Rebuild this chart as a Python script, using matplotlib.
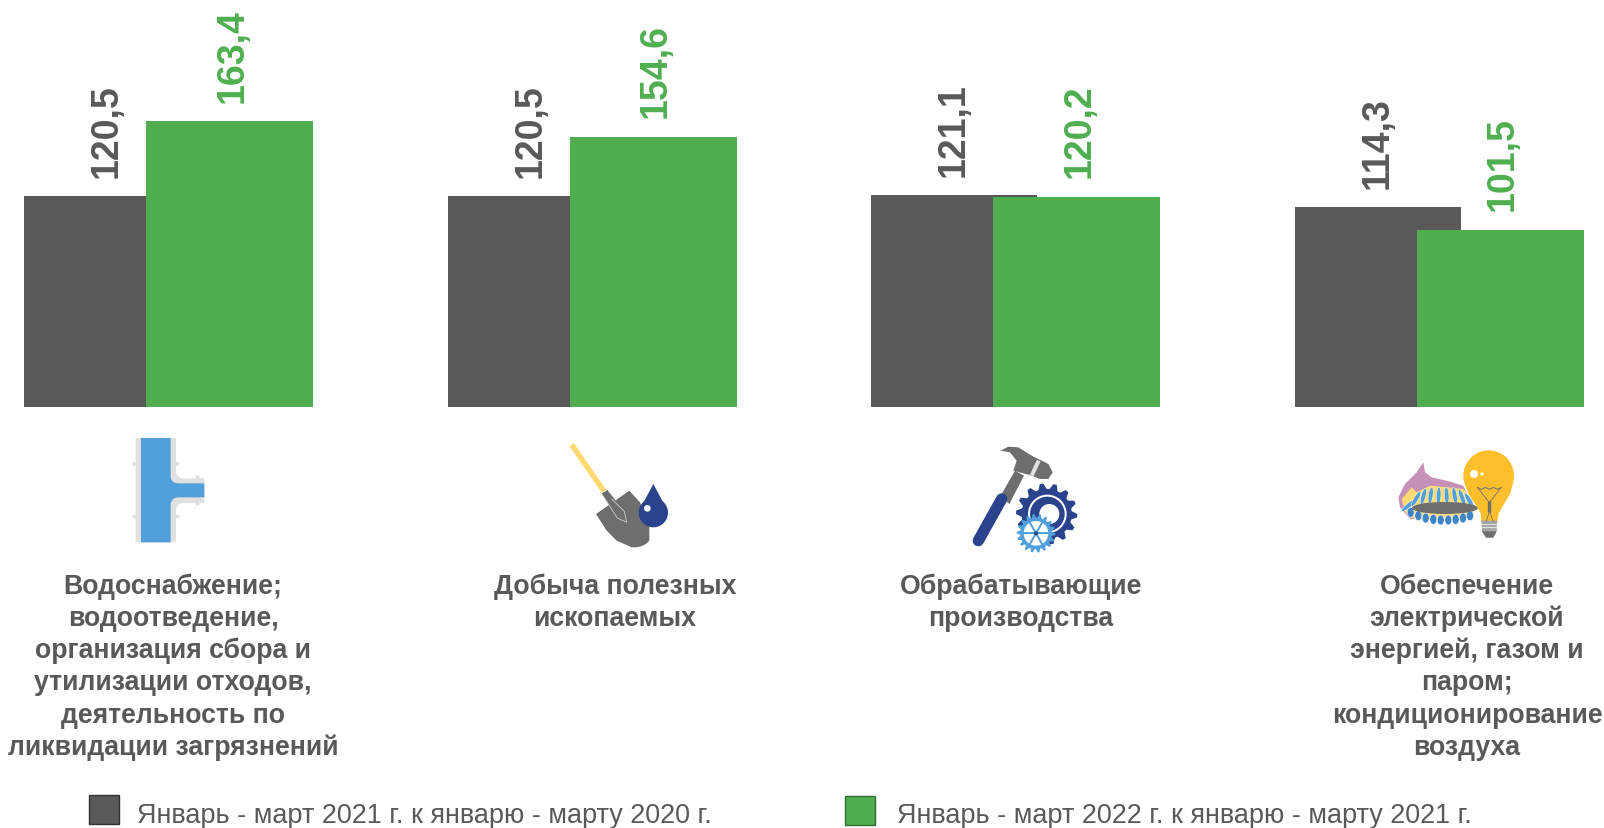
# modules
import numpy as np
import matplotlib
matplotlib.use('Agg')
import matplotlib.pyplot as plt
from matplotlib.patches import Polygon, Circle, Ellipse, Rectangle

plt.rcParams['font.family'] = ['Liberation Sans', 'DejaVu Sans']

# data
categories = [
    'Водоснабжение;\nводоотведение,\nорганизация сбора и\nутилизации отходов,\nдеятельность по\nликвидации загрязнений',
    'Добыча полезных\nископаемых',
    'Обрабатывающие\nпроизводства',
    'Обеспечение\nэлектрической\nэнергией, газом и\nпаром;\nкондиционирование\nвоздуха',
]
values_2021 = [120.5, 120.5, 121.1, 114.3]
values_2022 = [163.4, 154.6, 120.2, 101.5]
legend_2021 = 'Январь - март 2021 г. к январю - марту 2020 г.'
legend_2022 = 'Январь - март 2022 г. к январю - марту 2021 г.'

# colours
GREY = '#595959'
GREEN = '#4FAF50'
NAVY = '#2A438C'
BLUE = '#52A0DA'
STEEL = '#6E6E6E'
YELLOW = '#FDD96F'
AMBER = '#FDBE2C'
LIGHT = '#E0E0E0'

fig = plt.figure(figsize=(16.04, 8.29), dpi=100)

# bars: 1.75 px per unit, groups 423.5 px apart
BASE = 408.2
ax = fig.add_axes([0, 0, 1, 1])
ax.set_xlim(-168.3 / 423.5, (1604 - 168.3) / 423.5)
ax.set_ylim(-(829 - BASE) / 1.75, BASE / 1.75)
ax.axis('off')

x = np.arange(len(categories))
bars1 = ax.bar(x - 61.2 / 423.5, values_2021, 166 / 423.5, color=GREY, zorder=2)
bars2 = ax.bar(x + 61.5 / 423.5, values_2022, 167 / 423.5, color=GREEN, zorder=3)

for bars, col, dx in [(bars1, GREY, 0), (bars2, GREEN, 2)]:
    for b in bars:
        lab = ('%.1f' % b.get_height()).replace('.', ',')
        ax.annotate(lab, (b.get_x() + b.get_width() / 2, b.get_height()),
                    xytext=(dx, 14), textcoords='offset points', rotation=90,
                    ha='center', va='bottom', fontsize=27, fontweight='bold', color=col)

# overlay in figure pixels, for icons, captions and legend
ov = fig.add_axes([0, 0, 1, 1])
ov.set_xlim(0, 1604)
ov.set_ylim(829, 0)
ov.axis('off')
ov.patch.set_alpha(0)

# captions
cap_x = [173, 615, 1021, 1467]
for cx, cat in zip(cap_x, categories):
    for k, line_txt in enumerate(cat.split('\n')):
        ov.text(cx, 586.5 + k * 32.3, line_txt, ha='center', va='center', fontsize=19.2,
                fontweight='bold', color=GREY)

# legend
ov.add_patch(Rectangle((89, 796), 30, 29, fc=GREY, ec='#333333', lw=1))
ov.add_patch(Rectangle((845, 797), 30, 29, fc=GREEN, ec='#2E6B2F', lw=1))
ov.text(137, 816.5, legend_2021, ha='left', va='center', fontsize=19.43, color=GREY)
ov.text(897, 816.5, legend_2022, ha='left', va='center', fontsize=19.43, color=GREY)


def poly(off, pts, col, z=3):
    # pts are read in a 3x crop whose corner is off
    ov.add_patch(Polygon(np.array(pts) / 3 + off, fc=col, ec='none', zorder=z))


def line(off, pts, col, lw, z=3, cap='butt'):
    p = np.array(pts) / 3 + off
    ov.plot(p[:, 0], p[:, 1], color=col, lw=lw / 3 * 0.72, zorder=z, solid_capstyle=cap)


def circ(off, c, r, col, z=3):
    ov.add_patch(Circle((c[0] / 3 + off[0], c[1] / 3 + off[1]), r / 3, fc=col, ec='none', zorder=z))


def bend(p0, c, p1, n=8):
    t = np.linspace(0, 1, n)[:, None]
    return (1 - t) ** 2 * np.array(p0) + 2 * t * (1 - t) * np.array(c) + t ** 2 * np.array(p1)


def gear(off, c, r, teeth, col, z):
    ang = np.linspace(0, 2 * np.pi, teeth * 4, endpoint=False)
    rad = np.tile([r, r, r * 0.82, r * 0.82], teeth)
    poly(off, np.c_[c[0] + rad * np.cos(ang), c[1] + rad * np.sin(ang)], col, z)


# icon 1: pipe
off = (125, 430)
poly(off, [(32, 27), (153, 27), *bend((153, 125), (153, 148), (178, 148)), (238, 148), (238, 222),
           *bend((178, 222), (153, 222), (153, 247)), (153, 340), (32, 340)], LIGHT)
poly(off, [(48, 27), (137, 27), *bend((137, 140), (137, 163), (162, 163)), (238, 163), (238, 205),
           *bend((162, 205), (137, 205), (137, 230)), (137, 340), (48, 340)], BLUE, 4)
for c in [(28, 105), (157, 105), (28, 262), (157, 262), (218, 145), (218, 224)]:
    circ(off, c, 6, LIGHT)

# icon 2: shovel and drop
off = (560, 435)
line(off, [(35, 32), (132, 172)], YELLOW, 16)
poly(off, [(108, 240), (208, 170), (240, 205), (268, 280), *bend((268, 320), (250, 342), (215, 340)),
           (170, 320), (140, 290)], STEEL)
poly(off, [(125, 178), (142, 168), (193, 232), (200, 265), (172, 252)], STEEL, 4)
line(off, [(155, 195), (193, 232), (200, 265), (172, 252), (135, 195)], '#D0D0D0', 2.5, 5)
poly(off, [(280, 150), (240, 225), (320, 225)], NAVY, 4)
circ(off, (280, 236), 44, NAVY, 4)
circ(off, (262, 223), 10, 'white', 5)

# icon 3: hammer and gears
off = (960, 435)
poly(off, [(122, 185), (165, 110), (192, 125), (148, 210)], STEEL)
line(off, [(55, 320), (125, 195)], NAVY, 34, 4, 'round')
poly(off, [(122, 50), (145, 38), (175, 40), (215, 65), (265, 90), (278, 115), (265, 135), (240, 135), (215, 125),
           (205, 122), (160, 110), (170, 80), (150, 55)], STEEL)
line(off, [(236, 80), (215, 125)], LIGHT, 12, 4)
gear(off, (260, 240), 92, 14, NAVY, 4)
circ(off, (262, 240), 58, 'white', 4)
circ(off, (262, 240), 52, NAVY, 4)
circ(off, (268, 240), 30, 'white', 4)
gear(off, (228, 298), 58, 18, BLUE, 5)
circ(off, (228, 298), 37, 'white', 5)
for a in np.arange(0, np.pi, np.pi / 3):
    line(off, [(228 - 40 * np.cos(a), 298 - 40 * np.sin(a)), (228 + 40 * np.cos(a), 298 + 40 * np.sin(a))], BLUE, 6, 5)
circ(off, (228, 298), 6, NAVY, 6)

# icon 4: burner and bulb
off = (1390, 445)
poly(off, [(25, 160), (45, 120), (80, 85), (100, 55), (105, 85), (125, 100), (170, 110), (220, 125), (240, 170),
           (240, 200), (60, 225), (30, 190)], '#C690B8')
poly(off, [(35, 165), (65, 130), (80, 145), (120, 125), (175, 130), (220, 135), (250, 170), (250, 215), (80, 228),
           (45, 205)], YELLOW)
# upper flames of the ring
for fx, fy, tilt in [(55, 185, 50), (78, 165, 30), (100, 158, 15), (122, 155, 8), (146, 155, 3), (170, 155, -3),
                     (194, 155, -10), (216, 160, -20), (238, 170, -30)]:
    ov.add_patch(Ellipse((fx / 3 + off[0], fy / 3 + off[1]), 4.5, 17, angle=tilt, fc=BLUE, ec='white', lw=0.3, zorder=4))
# lower flames
for fx, fy in [(62, 205), (85, 215), (107, 222), (130, 226), (152, 228), (175, 228), (197, 226), (219, 222), (240, 215)]:
    ov.add_patch(Ellipse((fx / 3 + off[0], fy / 3 + off[1]), 7, 10, fc='#3F84C9', ec='white', lw=0.4, zorder=4))
ov.add_patch(Ellipse((165 / 3 + off[0], 192 / 3 + off[1]), 66, 12, fc=STEEL, ec='none', zorder=5))
circ(off, (296, 95), 76, AMBER, 6)
poly(off, [(224, 118), (236, 150), (256, 180), (272, 208), (274, 232), (322, 232), (326, 208), (342, 180), (360, 150), (369, 118)], AMBER, 6)
poly(off, [(274, 230), (322, 230), (320, 262), (310, 279), (288, 279), (276, 262)], '#A8A8A8', 6)
poly(off, [(276, 262), (320, 262), (310, 281), (288, 281)], STEEL, 7)
for sy in [240, 250]:
    line(off, [(274, sy), (322, sy)], 'white', 2, 7)
line(off, [(262, 130), (274, 136), (286, 130), (298, 136), (310, 130), (322, 136), (334, 130)], STEEL, 3, 7)
line(off, [(262, 130), (298, 176), (334, 130)], STEEL, 2.5, 7)
line(off, [(298, 172), (298, 204)], STEEL, 10, 7)
line(off, [(298, 204), (288, 234)], STEEL, 2.5, 7)
line(off, [(300, 204), (310, 234)], STEEL, 2.5, 7)
circ(off, (252, 90), 12, 'white', 7)
circ(off, (276, 90), 5, 'white', 7)

plt.savefig('out.png', dpi=100)
